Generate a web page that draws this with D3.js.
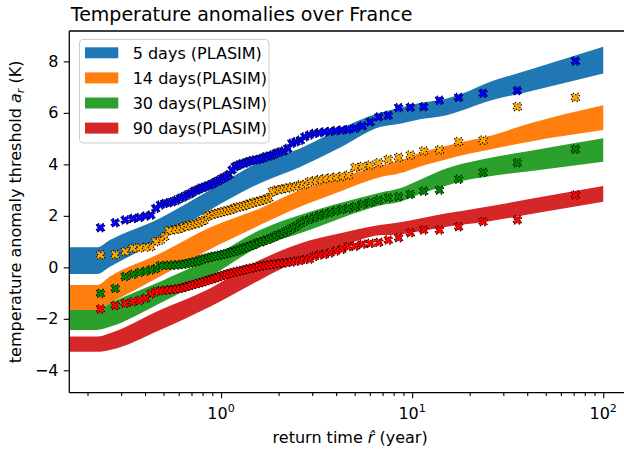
<!DOCTYPE html>
<html><head><meta charset="utf-8">
<script src="https://cdn.jsdelivr.net/npm/d3@7"></script>
<style>
body{margin:0;background:#fff}
svg{display:block}
text{font-family:"DejaVu Sans",sans-serif;fill:#000}
</style>
</head><body>
<svg id="chart" width="624" height="454"></svg>
<script>
// ---------------- data ----------------
const seriesNames = ["5 days (PLASIM)", "14 days(PLASIM)", "30 days(PLASIM)", "90 days(PLASIM)"];
const bandColors = ["#1f77b4", "#ff7f0e", "#2ca02c", "#d62728"];
const pointColors = ["#0000ff", "#ffa500", "#008000", "#ff0000"];

// empirical return times (years) of the sorted events, shared by all series
const returnTimes = [71.48, 35.50, 23.50, 17.50, 13.89, 11.49, 9.777, 8.490, 7.488, 6.687,
  6.031, 5.485, 5.022, 4.625, 4.280, 3.979, 3.713, 3.476, 3.264, 3.073,
  2.900, 2.742, 2.598, 2.466, 2.345, 2.232, 2.128, 2.031, 1.940, 1.855,
  1.776, 1.701, 1.631, 1.565, 1.502, 1.443, 1.386, 1.333, 1.282, 1.233,
  1.187, 1.142, 1.100, 1.059, 1.020, 0.9818, 0.9454, 0.9102, 0.8763, 0.8434,
  0.8116, 0.7807, 0.7506, 0.7213, 0.6928, 0.6649, 0.6375, 0.6106, 0.5842, 0.5581,
  0.5323, 0.5066, 0.4809, 0.4551, 0.4290, 0.4024, 0.3749, 0.3460, 0.3147, 0.2791, 0.2338];

const points5 = [8.01, 6.86, 6.76, 6.60, 6.49, 6.24, 6.22, 6.20, 5.90, 5.84,
  5.65, 5.49, 5.40, 5.35, 5.33, 5.31, 5.28, 5.26, 5.23, 5.20,
  5.14, 5.07, 4.94, 4.88, 4.82, 4.62, 4.52, 4.48, 4.43, 4.36,
  4.32, 4.29, 4.23, 4.19, 4.17, 4.14, 4.10, 4.05, 4.02, 3.97,
  3.91, 3.78, 3.60, 3.52, 3.46, 3.39, 3.33, 3.26, 3.20, 3.16,
  3.11, 3.07, 3.00, 2.96, 2.87, 2.81, 2.74, 2.68, 2.61, 2.55,
  2.51, 2.48, 2.42, 2.29, 2.03, 1.99, 1.94, 1.90, 1.84, 1.73, 1.54];
const points14 = [6.60, 6.24, 4.94, 4.88, 4.56, 4.52, 4.36, 4.27, 4.19, 4.06,
  3.97, 3.92, 3.88, 3.58, 3.53, 3.50, 3.47, 3.44, 3.40, 3.36,
  3.32, 3.22, 3.20, 3.14, 3.12, 3.08, 3.06, 3.02, 3.00, 2.94,
  2.70, 2.64, 2.60, 2.56, 2.53, 2.49, 2.45, 2.40, 2.37, 2.34,
  2.31, 2.25, 2.22, 2.19, 2.16, 2.12, 2.09, 2.06, 2.03, 1.96,
  1.82, 1.77, 1.71, 1.68, 1.64, 1.60, 1.58, 1.51, 1.47, 1.45,
  1.42, 1.19, 1.06, 0.99, 0.80, 0.78, 0.75, 0.74, 0.61, 0.49, 0.48];
const points30 = [4.59, 4.06, 3.69, 3.42, 3.00, 2.96, 2.83, 2.74, 2.70, 2.61,
  2.52, 2.45, 2.35, 2.29, 2.25, 2.19, 2.12, 2.07, 2.01, 1.94,
  1.86, 1.80, 1.71, 1.60, 1.51, 1.42, 1.34, 1.28, 1.22, 1.15,
  1.09, 1.05, 0.99, 0.96, 0.90, 0.85, 0.80, 0.76, 0.72, 0.67,
  0.63, 0.60, 0.56, 0.53, 0.50, 0.47, 0.44, 0.42, 0.39, 0.36,
  0.33, 0.29, 0.24, 0.21, 0.18, 0.15, 0.12, 0.10, 0.09, 0.08,
  0.08, 0.07, 0.06, -0.05, -0.10, -0.15, -0.20, -0.27, -0.36, -0.82, -1.01];
const points90 = [2.81, 1.84, 1.77, 1.58, 1.45, 1.45, 1.34, 1.15, 1.06, 0.97,
  0.93, 0.90, 0.82, 0.80, 0.70, 0.63, 0.56, 0.50, 0.48, 0.42,
  0.32, 0.30, 0.27, 0.24, 0.21, 0.19, 0.17, 0.15, 0.13, 0.11,
  0.09, 0.07, 0.05, 0.03, 0.00, -0.03, -0.06, -0.09, -0.12, -0.15,
  -0.18, -0.21, -0.24, -0.28, -0.32, -0.36, -0.40, -0.44, -0.48, -0.52,
  -0.56, -0.60, -0.63, -0.66, -0.70, -0.74, -0.78, -0.82, -0.84, -0.86,
  -0.88, -0.89, -0.91, -0.95, -1.03, -1.20, -1.28, -1.34, -1.40, -1.48, -1.62];

// confidence bands (return time, lower, upper)
const bandX = [0.15, 0.225, 0.262, 0.479, 0.875, 1.598, 2.59, 4.2, 6.77, 8.63, 11.0, 15.2, 18.5, 24.5, 41.1, 100];
const upper5  = [0.78, 0.78, 1.06, 1.91, 3.00, 4.09, 4.62, 5.38, 6.00, 6.20, 6.38, 6.56, 6.76, 7.15, 7.67, 8.57];
const lower5  = [-0.26, -0.26, 0.02, 1.06, 2.23, 3.27, 3.90, 4.65, 5.45, 5.58, 5.75, 5.91, 6.11, 6.43, 6.83, 7.53];
const upper14 = [-0.69, -0.69, -0.36, 0.54, 1.55, 2.29, 3.00, 3.50, 3.95, 4.15, 4.45, 4.72, 4.88, 5.07, 5.59, 6.30];
const lower14 = [-1.66, -1.66, -1.40, -0.36, 0.70, 1.64, 2.35, 2.95, 3.50, 3.65, 3.92, 4.20, 4.36, 4.55, 4.88, 5.33];
const upper30 = [-1.66, -1.66, -1.40, -0.56, 0.35, 1.45, 2.03, 2.50, 2.90, 3.07, 3.40, 3.85, 4.03, 4.23, 4.52, 5.01];
const lower30 = [-2.43, -2.43, -2.31, -1.40, -0.36, 0.80, 1.32, 1.90, 2.40, 2.55, 2.85, 3.18, 3.36, 3.52, 3.73, 4.10];
const upper90 = [-2.69, -2.69, -2.56, -1.66, -0.82, 0.28, 0.93, 1.32, 1.64, 1.75, 1.90, 2.10, 2.20, 2.35, 2.65, 3.16];
const lower90 = [-3.28, -3.28, -3.21, -2.43, -1.53, -0.49, 0.28, 0.80, 1.25, 1.28, 1.40, 1.58, 1.66, 1.77, 2.06, 2.55];

const xMajorTicks = [1, 10, 100];
const xTickExponents = ["0", "1", "2"];
const yTicks = [-4, -2, 0, 2, 4, 6, 8];

const titleText = "Temperature anomalies over France";

// ---------------- chart ----------------
const svg = d3.select("#chart");
const L = 69.3, R = 631, T = 31, B = 392.7;
const x = d3.scaleLog().domain([0.1606, 139.7]).range([L, R]);
const y = d3.scaleLinear().domain([-4.87, 9.18]).range([B, T]);

svg.append("defs").append("clipPath").attr("id", "plotclip")
  .append("rect").attr("x", L).attr("y", T).attr("width", R - L).attr("height", B - T);

const plot = svg.append("g").attr("clip-path", "url(#plotclip)");

const bands = [[lower5, upper5], [lower14, upper14], [lower30, upper30], [lower90, upper90]];
const pointSets = [points5, points14, points30, points90];

const area = d3.area()
  .x(d => x(d.x)).y0(d => y(d.lo)).y1(d => y(d.hi))
  .curve(d3.curveMonotoneX);

bands.forEach((b, i) => {
  const data = bandX.map((bx, j) => ({x: bx, lo: b[0][j], hi: b[1][j]}));
  plot.append("path").datum(data).attr("d", area).attr("fill", bandColors[i]).attr("stroke", "none");
});

// filled X marker
const s = 9;
const xv = [[0.25,0],[0.5,0.25],[0.75,0],[1,0.25],[0.75,0.5],[1,0.75],[0.75,1],[0.5,0.75],[0.25,1],[0,0.75],[0.25,0.5],[0,0.25]];
const markerPath = "M" + xv.map(p => ((p[0]-0.5)*s).toFixed(2) + "," + ((p[1]-0.5)*s).toFixed(2)).join("L") + "Z";

pointSets.forEach((ps, i) => {
  plot.append("g").selectAll("path")
    .data(ps.map((v, j) => ({x: returnTimes[j], y: v})))
    .join("path")
    .attr("d", markerPath)
    .attr("transform", d => `translate(${x(d.x)},${y(d.y)})`)
    .attr("fill", pointColors[i])
    .attr("stroke", "#000")
    .attr("stroke-width", 1.2)
    .attr("stroke-dasharray", "1.2,2");
});

// axes
const minorTicks = [];
[0.1, 1, 10, 100].forEach(d => { for (let m = 2; m <= 9; m++) { const v = d * m; if (v > 0.1606 && v < 139.7) minorTicks.push(v); } });

const gx = svg.append("g").attr("transform", `translate(0,${B})`);
gx.call(d3.axisBottom(x).tickValues(xMajorTicks).tickFormat("").tickSize(5.6).tickSizeOuter(0));
const gxm = svg.append("g").attr("transform", `translate(0,${B})`);
gxm.call(d3.axisBottom(x).tickValues(minorTicks).tickFormat("").tickSize(3.2).tickSizeOuter(0));
[gx, gxm].forEach(g => { g.select(".domain").remove(); g.selectAll("line").attr("stroke", "#000").attr("stroke-width", 1.1); });

xMajorTicks.forEach((v, i) => {
  const t = svg.append("text").attr("x", x(v)).attr("y", 419).attr("text-anchor", "middle").attr("font-size", 16);
  t.append("tspan").text("10");
  t.append("tspan").attr("dy", -7).attr("font-size", 11.2).text(xTickExponents[i]);
});

const gy = svg.append("g").attr("transform", `translate(${L},0)`);
gy.call(d3.axisLeft(y).tickValues(yTicks).tickFormat(d => d < 0 ? "\u2212" + Math.abs(d) : String(d)).tickSize(5.6).tickPadding(5.2).tickSizeOuter(0));
gy.select(".domain").remove();
gy.selectAll("line").attr("stroke", "#000").attr("stroke-width", 1.1);
gy.selectAll("text").attr("font-size", 16).attr("font-family", "DejaVu Sans");

// spines
svg.append("line").attr("x1", L).attr("x2", L).attr("y1", T).attr("y2", B).attr("stroke", "#000").attr("stroke-width", 1.28);
svg.append("line").attr("x1", L).attr("x2", R).attr("y1", B).attr("y2", B).attr("stroke", "#000").attr("stroke-width", 1.28);
svg.append("line").attr("x1", L).attr("x2", R).attr("y1", T).attr("y2", T).attr("stroke", "#000").attr("stroke-width", 1.28);
svg.append("line").attr("x1", R).attr("x2", R).attr("y1", T).attr("y2", B).attr("stroke", "#000").attr("stroke-width", 1.28);

// labels
const xl = svg.append("text").attr("x", (L + R) / 2).attr("y", 443).attr("text-anchor", "middle").attr("font-size", 16);
xl.append("tspan").text("return time ");
xl.append("tspan").attr("font-style", "italic").text("r\u0302");
xl.append("tspan").text(" (year)");

const yl = svg.append("text").attr("transform", `translate(21,${(T + B) / 2}) rotate(-90)`).attr("text-anchor", "middle").attr("font-size", 16);
yl.append("tspan").text("temperature anomaly threshold ");
yl.append("tspan").attr("font-style", "italic").text("a");
yl.append("tspan").attr("font-style", "italic").attr("font-size", 11.2).attr("dy", 3).text("r");
yl.append("tspan").attr("dy", -3).text(" (K)");

svg.append("text").attr("x", L + 1.5).attr("y", 21).attr("font-size", 19).text(titleText);

// legend
const lg = svg.append("g");
lg.append("rect").attr("x", 79.5).attr("y", 39.5).attr("width", 189.5).attr("height", 103.5).attr("rx", 3.5)
  .attr("fill", "#fff").attr("fill-opacity", 0.8).attr("stroke", "#cccccc").attr("stroke-width", 1);
seriesNames.forEach((n, i) => {
  const cy = 52.8 + i * 25.1;
  lg.append("rect").attr("x", 85).attr("y", cy - 5.5).attr("width", 33.3).attr("height", 11).attr("fill", bandColors[i]);
  lg.append("text").attr("x", 132.7).attr("y", cy + 5.8).attr("font-size", 16).text(n);
});
</script>
</body></html>
